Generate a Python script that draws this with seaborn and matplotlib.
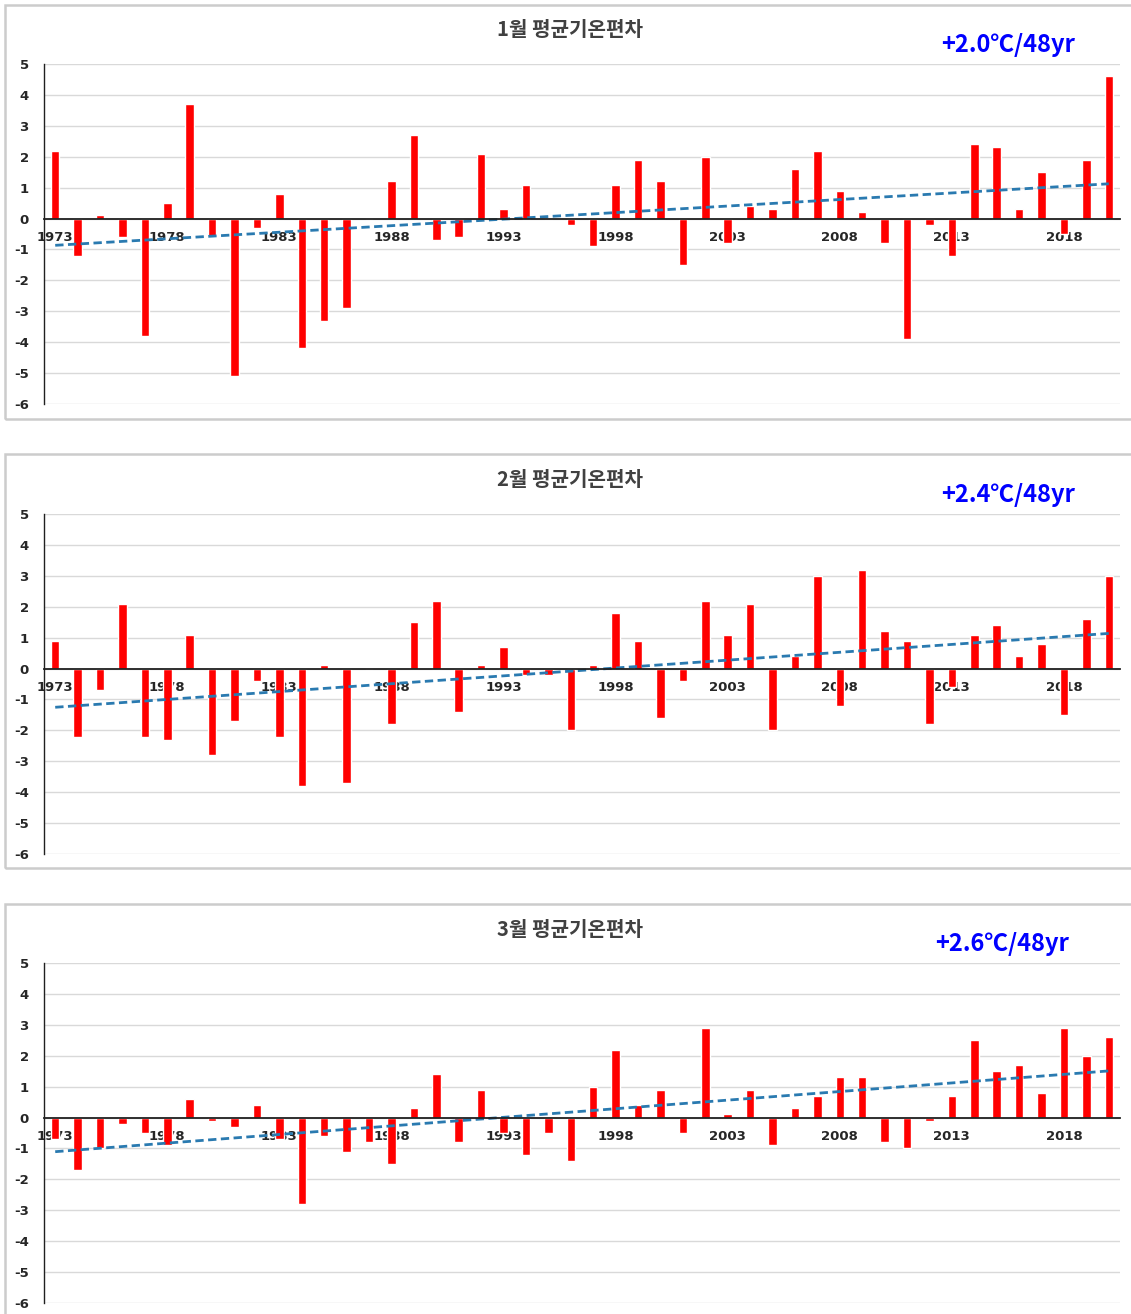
import numpy as np
import matplotlib
matplotlib.use("Agg")
import matplotlib.pyplot as plt
import seaborn as sns
from matplotlib.patches import Rectangle

# data (monthly mean temperature anomaly, degC)
years = list(range(1973, 2021))

jan = [2.2, -1.2, 0.1, -0.6, -3.8, 0.5, 3.7, -0.6, -5.1, -0.3,
       0.8, -4.2, -3.3, -2.9, 0.0, 1.2, 2.7, -0.7, -0.6, 2.1,
       0.3, 1.1, 0.0, -0.2, -0.9, 1.1, 1.9, 1.2, -1.5, 2.0,
       -0.8, 0.4, 0.3, 1.6, 2.2, 0.9, 0.2, -0.8, -3.9, -0.2,
       -1.2, 2.4, 2.3, 0.3, 1.5, -0.5, 1.9, 4.6]

feb = [0.9, -2.2, -0.7, 2.1, -2.2, -2.3, 1.1, -2.8, -1.7, -0.4,
       -2.2, -3.8, 0.1, -3.7, 0.0, -1.8, 1.5, 2.2, -1.4, 0.1,
       0.7, -0.2, -0.2, -2.0, 0.1, 1.8, 0.9, -1.6, -0.4, 2.2,
       1.1, 2.1, -2.0, 0.4, 3.0, -1.2, 3.2, 1.2, 0.9, -1.8,
       -0.6, 1.1, 1.4, 0.4, 0.8, -1.5, 1.6, 3.0]

mar = [-0.7, -1.7, -1.0, -0.2, -0.5, -0.9, 0.6, -0.1, -0.3, 0.4,
       -0.7, -2.8, -0.6, -1.1, -0.8, -1.5, 0.3, 1.4, -0.8, 0.9,
       -0.5, -1.2, -0.5, -1.4, 1.0, 2.2, 0.4, 0.9, -0.5, 2.9,
       0.1, 0.9, -0.9, 0.3, 0.7, 1.3, 1.3, -0.8, -1.0, -0.1,
       0.7, 2.5, 1.5, 1.7, 0.8, 2.9, 2.0, 2.6]

titles = ["1월 평균기온편차", "2월 평균기온편차", "3월 평균기온편차"]
trend_labels = ["+2.0℃/48yr", "+2.4℃/48yr", "+2.6℃/48yr"]
tick_years = list(range(1973, 2021, 5))

W, H = 1131, 1314

sns.set_style("white")
plt.rcParams['font.family'] = ['DejaVu Sans', 'Noto Sans CJK KR']
plt.rcParams['axes.unicode_minus'] = False

fig = plt.figure(figsize=(W / 100, H / 100), dpi=100)


def fx(px):
    return px / W


def fy(py):
    return 1 - py / H


series = [jan, feb, mar]
ax_tops = [64, 514, 963]
box_tops = [5, 454, 904]
label_x = [1008, 1008, 1002]

for i, vals in enumerate(series):
    top = ax_tops[i]
    bottom = top + 340
    # chart-area frame
    fig.patches.append(Rectangle((fx(5), fy(box_tops[i] + 414)), fx(1140), 414 / H,
                                 transform=fig.transFigure, fill=False,
                                 edgecolor="#cccccc", lw=1.8))
    ax = fig.add_axes([fx(44), fy(bottom), fx(1120 - 44), (bottom - top) / H])

    sns.barplot(x=years, y=vals, native_scale=True, width=0.38,
                color="#ff0000", saturation=1, ax=ax, zorder=3)
    sns.regplot(x=np.array(years, dtype=float), y=np.array(vals), scatter=False, ci=None,
                ax=ax, line_kws=dict(ls=(0, (3, 1.6)), color="#2a7ab0", lw=2, zorder=4))

    ax.set_xlim(1972.5, 2020.5)
    ax.set_ylim(-6, 5)
    ax.set_yticks(range(-6, 6))
    ax.yaxis.grid(True, color="#d9d9d9", lw=1, zorder=0)
    ax.set_axisbelow(True)
    ax.set_xlabel("")
    ax.set_ylabel("")

    for s in ["top", "right"]:
        ax.spines[s].set_visible(False)
    ax.spines["left"].set_color("#202020")
    ax.spines["left"].set_linewidth(1)
    ax.spines["bottom"].set_position(("data", 0))
    ax.spines["bottom"].set_color("#202020")
    ax.spines["bottom"].set_linewidth(1.3)
    ax.spines["bottom"].set_zorder(5)

    ax.set_xticks(tick_years)
    ax.set_xticklabels([str(y) for y in tick_years], fontsize=9.5, fontweight="bold")
    ax.set_xticks([y - 0.5 for y in tick_years[1:]], minor=True)
    ax.tick_params(axis="x", which="major", length=0, pad=9)
    ax.tick_params(axis="x", which="minor", length=4, direction="out", color="#202020")
    ax.tick_params(axis="y", length=4, direction="out", color="#202020", pad=7)
    for lab in ax.get_yticklabels():
        lab.set_fontsize(9.5)
        lab.set_fontweight("bold")

    fig.text(fx(570), fy(top - 34), titles[i], ha="center", va="center",
             fontsize=14.5, fontweight="bold", color="#404040",
             family=['Noto Sans CJK KR', 'DejaVu Sans'])
    fig.text(fx(label_x[i]), fy(top - 19), trend_labels[i], ha="center", va="center",
             fontsize=17, fontweight="bold", color="#0000ff",
             family=['Noto Sans CJK KR', 'DejaVu Sans'])

fig.savefig("out.png", dpi=100)
